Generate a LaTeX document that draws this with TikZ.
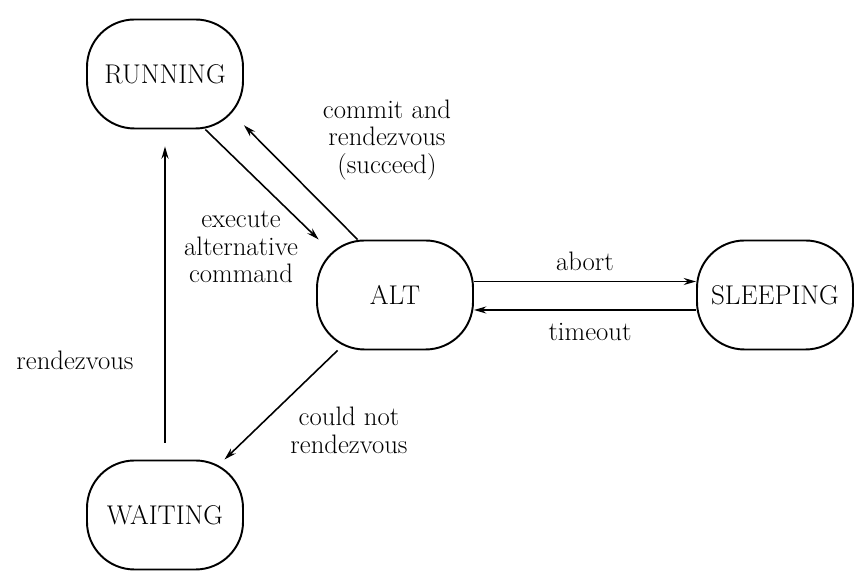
\documentclass[tikz,border=0pt]{standalone}
\usepackage{tikz}
\usetikzlibrary{arrows.meta, positioning, calc}

\begin{document}
\begin{tikzpicture}[
  state/.style={draw, line width=1.1pt, rounded corners=0.95cm, minimum width=3.12cm, minimum height=2.18cm, inner sep=2pt, font=\fontsize{15.4}{16.5}\selectfont},
  trans/.style={-{Stealth[length=7pt, width=4pt]}, line width=0.9pt},
  lbl/.style={font=\fontsize{15.2}{15.8}\selectfont, align=center}
]
  \useasboundingbox (0,0) rectangle (17.12,11.5);

  % States
  \node[state] (running) at (3.30, 10.02) {RUNNING};
  \node[state] (alt) at (7.90, 5.60) {ALT};
  \node[state] (sleeping) at (15.50, 5.60) {SLEEPING};
  \node[state] (waiting) at (3.30, 1.20) {WAITING};

  % Running <-> Alt
  \draw[trans] (running.-54) -- (alt.144);
  \draw[trans] (alt.124) -- (running.-33);
  \node[lbl] (commit) at (7.74, 8.70) {commit and\\rendezvous\\(succeed)};
  \node[lbl] (execute) at (4.82, 6.56) {execute\\alternative\\command};

  % Alt <-> Sleeping
  \draw[trans] ([yshift=0.27cm]alt.east) -- ([yshift=0.27cm]sleeping.west);
  \draw[trans] ([yshift=-0.30cm]sleeping.west) -- ([yshift=-0.30cm]alt.east);
  \node[lbl] (abort) at (11.70, 6.28) {abort};
  \node[lbl] (timeout) at (11.80, 4.86) {timeout};

  % Alt -> Waiting -> Running
  \draw[trans] (alt.-136) -- (waiting.43);
  \node[lbl] (couldnot) at (6.98, 2.90) {could not\\rendezvous};
  \draw[trans, shorten <=0.34cm, shorten >=0.34cm] (waiting.north) -- (running.south);
  \node[lbl] (rendezvous) at (1.50, 4.30) {rendezvous};
\end{tikzpicture}
\end{document}
